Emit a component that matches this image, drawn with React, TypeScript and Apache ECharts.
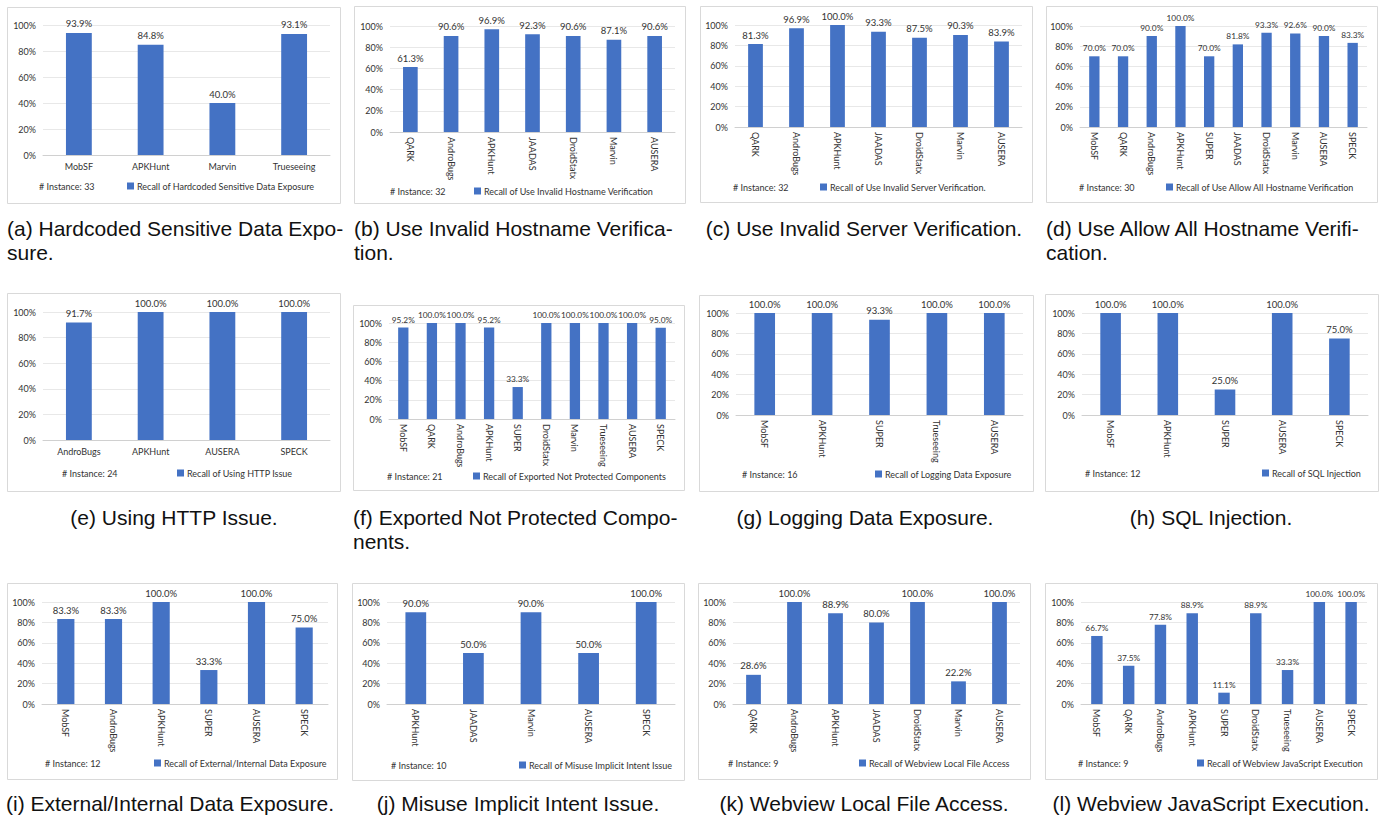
import React, { useEffect, useRef } from "react";
import * as echarts from "echarts";

// ---------- data ----------
const catsA = ["MobSF", "APKHunt", "Marvin", "Trueseeing"];
const valsA = [93.9, 84.8, 40.0, 93.1];
const catsB = ["QARK", "AndroBugs", "APKHunt", "JAADAS", "DroidStatx", "Marvin", "AUSERA"];
const valsB = [61.3, 90.6, 96.9, 92.3, 90.6, 87.1, 90.6];
const catsC = ["QARK", "AndroBugs", "APKHunt", "JAADAS", "DroidStatx", "Marvin", "AUSERA"];
const valsC = [81.3, 96.9, 100.0, 93.3, 87.5, 90.3, 83.9];
const catsD = ["MobSF", "QARK", "AndroBugs", "APKHunt", "SUPER", "JAADAS", "DroidStatx", "Marvin", "AUSERA", "SPECK"];
const valsD = [70.0, 70.0, 90.0, 100.0, 70.0, 81.8, 93.3, 92.6, 90.0, 83.3];
const catsE = ["AndroBugs", "APKHunt", "AUSERA", "SPECK"];
const valsE = [91.7, 100.0, 100.0, 100.0];
const catsF = ["MobSF", "QARK", "AndroBugs", "APKHunt", "SUPER", "DroidStatx", "Marvin", "Trueseeing", "AUSERA", "SPECK"];
const valsF = [95.2, 100.0, 100.0, 95.2, 33.3, 100.0, 100.0, 100.0, 100.0, 95.0];
const catsG = ["MobSF", "APKHunt", "SUPER", "Trueseeing", "AUSERA"];
const valsG = [100.0, 100.0, 93.3, 100.0, 100.0];
const catsH = ["MobSF", "APKHunt", "SUPER", "AUSERA", "SPECK"];
const valsH = [100.0, 100.0, 25.0, 100.0, 75.0];
const catsI = ["MobSF", "AndroBugs", "APKHunt", "SUPER", "AUSERA", "SPECK"];
const valsI = [83.3, 83.3, 100.0, 33.3, 100.0, 75.0];
const catsJ = ["APKHunt", "JAADAS", "Marvin", "AUSERA", "SPECK"];
const valsJ = [90.0, 50.0, 90.0, 50.0, 100.0];
const catsK = ["QARK", "AndroBugs", "APKHunt", "JAADAS", "DroidStatx", "Marvin", "AUSERA"];
const valsK = [28.6, 100.0, 88.9, 80.0, 100.0, 22.2, 100.0];
const catsL = ["MobSF", "QARK", "AndroBugs", "APKHunt", "SUPER", "DroidStatx", "Trueseeing", "AUSERA", "SPECK"];
const valsL = [66.7, 37.5, 77.8, 88.9, 11.1, 88.9, 33.3, 100.0, 100.0];

const instances = [33, 32, 32, 30, 24, 21, 16, 12, 12, 10, 9, 9];
const seriesNames = [
  "Recall of Hardcoded Sensitive Data Exposure",
  "Recall of Use Invalid Hostname Verification",
  "Recall of Use Invalid Server Verification.",
  "Recall of Use Allow All Hostname Verification",
  "Recall of Using HTTP Issue",
  "Recall of Exported Not Protected Components",
  "Recall of Logging Data Exposure",
  "Recall of SQL Injection",
  "Recall of External/Internal Data Exposure",
  "Recall of Misuse Implicit Intent Issue",
  "Recall of Webview Local File Access",
  "Recall of Webview JavaScript Execution",
];
const captions = [
  ["(a) Hardcoded Sensitive Data Expo-", "sure."],
  ["(b) Use Invalid Hostname Verifica-", "tion."],
  ["(c) Use Invalid Server Verification."],
  ["(d) Use Allow All Hostname Verifi-", "cation."],
  ["(e) Using HTTP Issue."],
  ["(f) Exported Not Protected Compo-", "nents."],
  ["(g) Logging Data Exposure."],
  ["(h) SQL Injection."],
  ["(i) External/Internal Data Exposure."],
  ["(j) Misuse Implicit Intent Issue."],
  ["(k) Webview Local File Access."],
  ["(l) Webview JavaScript Execution."],
];
const yTicks = [0, 20, 40, 60, 80, 100];

const allCats = [catsA, catsB, catsC, catsD, catsE, catsF, catsG, catsH, catsI, catsJ, catsK, catsL];
const allVals = [valsA, valsB, valsC, valsD, valsE, valsF, valsG, valsH, valsI, valsJ, valsK, valsL];

// ---------- layout (pixels) ----------
const layout = [
  { box: [7, 7, 340, 203], plot: [43, 25, 330, 155], inst: [39, 186], sq: 127, rot: false, capY: 228, capX: 7, center: false },
  { box: [354, 6, 685, 203], plot: [390, 26, 675, 132], inst: [390, 191], sq: 474, rot: true, capY: 228, capX: 354, center: false },
  { box: [700, 6, 1032, 202], plot: [735, 25, 1022, 127], inst: [733, 187], sq: 820, rot: true, capY: 228, capX: 864, center: true },
  { box: [1046, 6, 1377, 202], plot: [1080, 26, 1367, 127], inst: [1079, 187], sq: 1166, rot: true, capY: 228, capX: 1046, center: false },
  { box: [7, 293, 340, 491], plot: [43, 312, 330, 440], inst: [62, 473], sq: 177, rot: false, capY: 517, capX: 174, center: true },
  { box: [353, 305, 684, 490], plot: [389, 323, 675, 419], inst: [387, 476], sq: 473, rot: true, capY: 517, capX: 353, center: false },
  { box: [699, 295, 1033, 491], plot: [736, 313, 1023, 415], inst: [742, 474], sq: 875, rot: true, capY: 517, capX: 865, center: true },
  { box: [1045, 294, 1378, 491], plot: [1082, 313, 1368, 415], inst: [1085, 473], sq: 1262, rot: true, capY: 517, capX: 1211, center: true },
  { box: [7, 583, 337, 779], plot: [42, 602, 328, 704], inst: [45, 763], sq: 154, rot: true, capY: 803, capX: 170, center: true },
  { box: [352, 583, 684, 780], plot: [387, 602, 675, 704], inst: [391, 765], sq: 519, rot: true, capY: 803, capX: 518, center: true },
  { box: [698, 583, 1030, 779], plot: [733, 602, 1020, 704], inst: [728, 763], sq: 859, rot: true, capY: 803, capX: 864, center: true },
  { box: [1045, 583, 1377, 779], plot: [1081, 602, 1367, 704], inst: [1078, 763], sq: 1197, rot: true, capY: 803, capX: 1211, center: true },
];

const FONT = 'Lato, "Open Sans", sans-serif';
const CAP_FONT = '"Liberation Sans", Arial, Helvetica, sans-serif';
const TXT = "#333333";
const BAR = "#4472C4";

function buildOption() {
  const grid: any[] = [];
  const xAxis: any[] = [];
  const yAxis: any[] = [];
  const series: any[] = [];
  const legend: any[] = [];
  const graphic: any[] = [];

  layout.forEach((L, i) => {
    const [px0, py0, px1, py1] = L.plot;
    const crowded = allCats[i].length >= 9;
    grid.push({ left: px0, top: py0, width: px1 - px0, height: py1 - py0, containLabel: false });
    xAxis.push({
      type: "category",
      gridIndex: i,
      data: allCats[i],
      axisTick: { show: false },
      axisLine: { lineStyle: { color: "#d0d0d0", width: 1 } },
      axisLabel: {
        interval: 0,
        rotate: L.rot ? -90 : 0,
        fontSize: 9,
        fontFamily: FONT,
        color: TXT,
        margin: L.rot ? 5 : 7,
      },
    });
    yAxis.push({
      type: "value",
      gridIndex: i,
      min: yTicks[0],
      max: yTicks[yTicks.length - 1],
      interval: yTicks[1] - yTicks[0],
      axisLine: { show: false },
      axisTick: { show: false },
      axisLabel: { formatter: "{value}%", fontSize: 9, fontFamily: FONT, color: TXT, margin: 7 },
      splitLine: { lineStyle: { color: "#e8e8e8", width: 1 } },
    });
    series.push({
      type: "bar",
      name: seriesNames[i],
      xAxisIndex: i,
      yAxisIndex: i,
      data: allVals[i],
      barWidth: "36%",
      itemStyle: { color: BAR },
      label: {
        show: true,
        position: "top",
        distance: 4,
        fontSize: crowded ? 8.3 : 9.5,
        fontFamily: FONT,
        color: TXT,
        formatter: (p: any) => Number(p.value).toFixed(1) + "%",
      },
    });
    legend.push({
      data: [seriesNames[i]],
      left: L.sq,
      top: L.inst[1] - 5.5,
      padding: 0,
      itemWidth: 7,
      itemHeight: 7,
      icon: "rect",
      selectedMode: false,
      textStyle: { fontSize: 9, fontFamily: FONT, color: TXT, lineHeight: 11, padding: [0, 0, 0, -2] },
    });
    const [bx0, by0, bx1, by1] = L.box;
    graphic.push({
      type: "rect",
      z: -10,
      silent: true,
      shape: { x: bx0 + 0.5, y: by0 + 0.5, width: bx1 - bx0, height: by1 - by0 },
      style: { fill: "rgba(0,0,0,0)", stroke: "#d9d9d9", lineWidth: 1 },
    });
    graphic.push({
      type: "text",
      silent: true,
      x: L.inst[0],
      y: L.inst[1],
      style: {
        text: "# Instance: " + instances[i],
        fill: TXT,
        font: `9px ${FONT}`,
        textAlign: "left",
        textVerticalAlign: "middle",
        align: "left",
        verticalAlign: "middle",
      },
    });
    captions[i].forEach((line, k) => {
      graphic.push({
        type: "text",
        silent: true,
        x: L.capX,
        y: L.capY + k * 24,
        style: {
          text: line,
          fill: "#111",
          font: `21px ${CAP_FONT}`,
          textAlign: L.center ? "center" : "left",
          textVerticalAlign: "middle",
          align: L.center ? "center" : "left",
          verticalAlign: "middle",
        },
      });
    });
  });

  return {
    animation: false,
    backgroundColor: "#ffffff",
    textStyle: { fontFamily: FONT },
    grid,
    xAxis,
    yAxis,
    series,
    legend,
    graphic,
  };
}

export default function App() {
  const ref = useRef<HTMLDivElement>(null);
  useEffect(() => {
    if (!ref.current) return;
    const chart = echarts.init(ref.current, undefined, { renderer: "svg" });
    chart.setOption(buildOption() as any);
    return () => chart.dispose();
  }, []);
  return (
    <div
      ref={ref}
      style={{ position: "absolute", left: 0, top: 0, width: 1395, height: 819, background: "#fff" }}
    />
  );
}
